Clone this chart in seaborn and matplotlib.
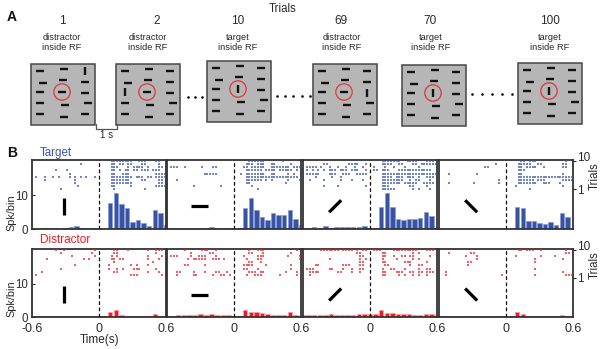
import numpy as np
import pandas as pd
import matplotlib
matplotlib.use("Agg")
import matplotlib.pyplot as plt
from matplotlib.patches import Rectangle, Circle
import seaborn as sns

# ---------------- data ----------------
# Panel A: trial sequence
trial_numbers = ["1", "2", "10", "69", "70", "100"]
trial_conditions = ["distractor", "distractor", "target", "distractor", "target", "target"]
rf_element_orientation = ["h", "h", "v", "h", "v", "v"]   # element inside the RF (red circle)
odd_vertical_element = [2, 6, -1, 8, -1, -1]               # vertical target elsewhere in array

# Panel B
stim_orientation_deg = [90, 0, 45, 135]
bin_centers = [-0.6, -0.55, -0.5, -0.45, -0.4, -0.35, -0.3, -0.25, -0.2, -0.15, -0.1, -0.05, 0.0,
               0.05, 0.1, 0.15, 0.2, 0.25, 0.3, 0.35, 0.4, 0.45, 0.5, 0.55, 0.6]

target_hist_vertical = [0, 0, 0.4, 0, 0.3, 0, 0.3, 0.5, 0.9, 0.3, 0, 0.4, 0,
                        0, 7.7, 10.8, 7.4, 6.2, 2.1, 2.8, 1.8, 1.0, 5.7, 4.7, 1.3]
target_hist_horizontal = [0, 0.4, 0, 0.4, 0, 0, 0.3, 0.3, 0.5, 0.3, 0, 0.3, 0,
                          0.3, 6.2, 9.2, 5.5, 3.6, 2.8, 4.8, 4.3, 4.3, 5.7, 3.0, 1.3]
target_hist_diag45 = [0.3, 0.3, 0.5, 0.4, 0.8, 0.4, 0.7, 0.7, 0.5, 0.7, 0.5, 0.8, 0.3,
                      0.4, 6.4, 10.8, 6.6, 3.1, 2.8, 3.1, 2.9, 3.2, 5.1, 3.8, 0.3]
target_hist_diag135 = [0.2, 0, 0, 0, 0, 0, 0, 0, 0.3, 0.3, 0.4, 0.4, 0,
                       0, 6.6, 6.1, 2.3, 2.5, 1.8, 1.5, 2.0, 1.2, 4.8, 3.5, 0]

distractor_hist_vertical = [0.3, 0.3, 0.3, 0.3, 0.3, 0.3, 0.3, 0.3, 0.3, 0.3, 0.3, 0.3, 0.2,
                            0.3, 1.4, 2.0, 0.7, 0.3, 0.3, 0.3, 0.3, 0.3, 1.0, 0.3, 0.3]
distractor_hist_horizontal = [0.3, 0.4, 0.6, 0.5, 0.6, 0.6, 0.9, 0.7, 0.8, 0.6, 0.6, 0.5, 0.4,
                              0.4, 2.0, 1.5, 1.5, 1.1, 0.8, 0.6, 0.6, 0.6, 1.5, 0.5, 0.3]
distractor_hist_diag45 = [0.6, 0.6, 0.6, 0.6, 0.6, 0.8, 0.6, 0.6, 0.6, 0.6, 0.9, 0.9, 0.9,
                          0.8, 2.0, 1.2, 1.2, 0.8, 0.8, 0.8, 0.6, 0.6, 0.9, 0.9, 0.5]
distractor_hist_diag135 = [0.2, 0.2, 0, 0.2, 0, 0.2, 0, 0.2, 0, 0.2, 0, 0.2, 0,
                           0.3, 1.6, 0.9, 0.4, 0.3, 0.3, 0.3, 0.2, 0.2, 0.7, 0.2, 0]

# Rasters: one string per trial (trial 10 first, trial 1 last), 25 ms per character,
# first 24 characters -0.6..0 s, last 24 characters 0..0.6 s; 'x' = spike
target_raster_vertical = [
    "........................ ....xxxxxxxx..xxx...xx..",
    ".................x...... ....xx.xx.xx...xx....x..",
    "........................ ....xxx...x.xxxx.x...xx.",
    "........x...x........... ....xx.x.xx.xx.xxx.xxx..",
    ".............x.......... ....xx..xxx.........xxxx",
    ".x..x..x.x...x.x.x.x..x. ....xxxxxxxx.xxx.xx.xxxx",
    "....x..........x........ ....xxxxxxx....xx....xx.",
    "...............x........ ....xxxxxxxx.........xx.",
    "................x....... ....xx.....x........xxxx",
    "..........x............. .....x..........x.......",
]
target_raster_horizontal = [
    "........................ .....xxxxxx......x......",
    "........................ ....xxx.xxx..xx.....x...",
    ".xxx..x.....x...xx...... ...xx.xxxxx..xxxxxxx.xxx",
    "........................ ....xxxxxx.xxxx.xxxxx.x.",
    ".............xxxxx...... ..x.xxxxxxx..xx....x.x..",
    "........................ ....xxxxxxxxxxxxxxxxxxx.",
    "...x.................... ....xxxxxx.x.x.....x...x",
    "........................ ....xx............x.....",
    ".........x.........x.... ......x.................",
    "........................ ........x...............",
]
target_raster_diag45 = [
    "........................ ....xxxxxxx..xxxx...xxx.",
    ".......xx.......xxxx..x. ....xxxx..xx...xx.xxxxxx",
    ".xxxx.x..x..x..x..x..x.. .x...x..x...x....x......",
    ".x.x.x.x.xxx.xxx.xxx..x. .xx.xxx...xxxxxxxxxxxx..",
    ".xxxxx...xxx..xxx..xxxx. ....xxxxxxxxxxxxxxxxxxxx",
    "....x.....x..x.......... ....xxxx.xxx.xxx.x..xxx.",
    "..x....x.....x...x...x.. ....xxxxxxxx..x.xx...x..",
    "........................ ....xxxxxxx.xxxxx..xxxx.",
    ".......x....x.........x. ....xxx.......xx....x...",
    "........................ ....xxxxx......x.x...x..",
]
target_raster_diag135 = [
    "........................ .....xx.xxx..........x..",
    "....................x... ....xxxxx..xx.......xx..",
    "................xx...... ....xx.xxxx..x......xx..",
    "........................ ....xxx.................",
    "...x.........x.......... ....xx..............x...",
    "........................ ....xxxxxxxxxxxxxxxxxxxx",
    ".....................x.. ....xxxxxx.xxx......xxxx",
    "...x........x........x.. ....xxxxxxx..xxx...x....",
    "........................ ...x................x...",
    "........................ ........x...............",
]
distractor_raster_vertical = [
    "........x..x..........x. .....xx...x......x..xxx.",
    "..........x..........x.. .....xx.............x...",
    "..............x.......x. ....x.x..........x....x.",
    ".....x............x.x... ....xx.xx........x...x..",
    "........................ .....x.............x....",
    "...............x........ ...x.......x.x...x......",
    "..........x............. ...x..x.x...xxx.....x...",
    "...x.................... .....xx..........x...x..",
    ".x...................... ...........xxx........x.",
    "........................ ........................",
]
distractor_raster_horizontal = [
    "......x.....xxx..x...... .....x..xxx...........x.",
    "........x......xx....... .....xx...x.........x...",
    ".xxx....x..xxx...x...... ...x....xxx........x...x",
    ".......x.xxxxx..xxx.x... ....x...xx.............x",
    "........................ .....xx..x..............",
    "......xx.....x.......... ...xxxx....x........x...",
    "........................ ...xx...x...........x...",
    "...xx....x...x...xx..x.. .....xxx.xx.......x...x.",
    "...x.....xx.....x..xx.x. ....x..xxx......x.....x.",
    "........................ ........................",
]
distractor_raster_diag45 = [
    "......xxxxxxx.xxxx.x.xx. .xxx....xxxxxxxxx...xxx.",
    "...................xx... ....xx.........x.x......",
    "....................xx.. ....xx..x..xx.xx.....x..",
    ".........x..........x.x. ....x....x.....x.x......",
    "....................xx.. ....xx......xxx.....x...",
    "....xx........xxx...xx.. .....xx.......x..xx.....",
    ".xxx.....xx...x..x..xx.. ....x..xx...x....x..xx..",
    "..xxxx......xx...x..x... ....xx...xxx..xx.xx.xxx.",
    "..x..................... ....xx....x.x..x.x..x...",
    "........................ ........................",
]
distractor_raster_diag135 = [
    "........................ ....xx.xxx..x........x..",
    "...x.......xx........... .....................xx.",
    ".........x...x.......... ...x........x....x......",
    ".............x.......... ..........x.........x...",
    "..........xx............ ..........x.............",
    "..........x............. ........................",
    "........................ ..........x.............",
    "..x..................... ....................x...",
    "..x...................x. ..........x..........xxx",
    "........................ ........................",
]

target_hists = [target_hist_vertical, target_hist_horizontal, target_hist_diag45, target_hist_diag135]
distractor_hists = [distractor_hist_vertical, distractor_hist_horizontal,
                    distractor_hist_diag45, distractor_hist_diag135]
target_rasters = [target_raster_vertical, target_raster_horizontal,
                  target_raster_diag45, target_raster_diag135]
distractor_rasters = [distractor_raster_vertical, distractor_raster_horizontal,
                      distractor_raster_diag45, distractor_raster_diag135]


def raster_frame(rows):
    times, trials = [], []
    for n, row in enumerate(rows):
        trial = len(rows) - n
        s = row.replace(" ", "")
        for i, ch in enumerate(s):
            if ch == "x":
                times.append(-0.6 + (i + 0.5) * 0.025)
                trials.append(trial)
    return pd.DataFrame({"time": times, "trial": trials})


# ---------------- style ----------------
sns.set_theme(style="white")
plt.rcParams["font.family"] = ["Liberation Sans", "DejaVu Sans"]
TXT = "#2a2a2a"
BLUE = "#3953a4"
RED = "#ec1c24"

W, H = 600, 349
fig = plt.figure(figsize=(W / 100, H / 100), dpi=100)

# ---------------- panel A (schematic) ----------------
axA = fig.add_axes([0, 0, 1, 1], zorder=-1)
axA.set_xlim(0, W)
axA.set_ylim(H, 0)
axA.axis("off")

box_left = [31, 116, 207, 313, 402, 518]
box_top = [64, 64, 61, 64, 65, 63]
box_w, box_h = 64, 61
num_x = [62, 157, 238, 341, 430, 550]
cap_x = [62, 148, 238, 342, 431, 550]
elem_rel = [(9, 7), (33, 5), (54, 7), (12, 19), (32, 16), (54, 18), (9, 28), (31, 28), (54, 29),
            (9, 39), (34, 41), (57, 39), (9, 50), (33, 53), (54, 50)]

fig.text(12 / W, 1 - 17 / H, "A", fontsize=10, fontweight="bold", color="#111", ha="center", va="center")
axA.text(283, 9, "Trials", fontsize=8.3, color=TXT, ha="center", va="center")

for i in range(6):
    axA.text(num_x[i], 21, trial_numbers[i], fontsize=8.5, color=TXT, ha="center", va="center")
    axA.text(cap_x[i], 37, trial_conditions[i], fontsize=6.7, color=TXT, ha="center", va="center")
    axA.text(cap_x[i], 48, "inside RF", fontsize=6.7, color=TXT, ha="center", va="center")
    L, T = box_left[i], box_top[i]
    axA.add_patch(Rectangle((L, T), box_w, box_h, facecolor="#b6b6b6", edgecolor="#474747", lw=1.1))
    for j, (dx, dy) in enumerate(elem_rel):
        x, y = L + dx, T + dy
        ori = "h"
        if j == 7:
            ori = rf_element_orientation[i]
        if j == odd_vertical_element[i]:
            ori = "v"
        if ori == "h":
            axA.plot([x - 3.6, x + 3.6], [y, y], color="#111", lw=1.7, solid_capstyle="butt")
        else:
            axA.plot([x, x], [y - 4.2, y + 4.2], color="#111", lw=1.7, solid_capstyle="butt")
    cx, cy = L + elem_rel[7][0], T + elem_rel[7][1]
    axA.add_patch(Circle((cx, cy), 8.2, fill=False, edgecolor="#e2353a", lw=0.9))

for xs, y in [([188, 195, 202], 97), ([277, 285, 293, 302, 310], 96), ([472, 482, 492, 502, 512], 94)]:
    axA.plot(xs, [y] * len(xs), "o", color="#111", ms=1.9, mew=0)

axA.plot([96, 96, 117, 117], [124, 128.5, 128.5, 124], color="#555", lw=0.9)
axA.text(107, 135.5, "1 s", fontsize=7, color=TXT, ha="center", va="center")

# ---------------- panel B ----------------
fig.text(12 / W, 1 - 153 / H, "B", fontsize=10, fontweight="bold", color="#111", ha="center", va="center")
fig.text(40 / W, 1 - 153 / H, "Target", fontsize=8.3, color=BLUE, ha="left", va="center")
fig.text(40 / W, 1 - 240 / H, "Distractor", fontsize=8.5, color=RED, ha="left", va="center")

col_left = [32, 167, 303, 439]
col_w = 134
row_top = [160, 249]
row_h = [69, 68]
YMAX = 20.5
TRIAL_LIM = (-11.65, 10.32)
edges = [b - 0.025 for b in bin_centers] + [bin_centers[-1] + 0.025]

hists = [target_hists, distractor_hists]
rasters = [target_rasters, distractor_rasters]
colors = [BLUE, RED]
edgecols = ["#8a9cd2", "#f7a0a0"]
spk_label_y = [0.235, 0.27]

for r in range(2):
    for c in range(4):
        ax = fig.add_axes([col_left[c] / W, (H - row_top[r] - row_h[r]) / H, col_w / W, row_h[r] / H])
        sns.histplot(x=bin_centers, weights=hists[r][c], bins=edges, shrink=0.8,
                     color=colors[r], edgecolor=edgecols[r], linewidth=0.5, alpha=1, ax=ax)
        ax.set_xlim(-0.6, 0.6)
        ax.set_ylim(0, YMAX)
        ax.set_xlabel("")
        ax.set_ylabel("")
        ax.axvline(0, color="#111", lw=0.9, ls=(0, (3, 2)), zorder=5)

        # stimulus orientation icon
        th = np.deg2rad(stim_orientation_deg[c])
        hl = 8.5
        dx = hl * np.cos(th) / col_w
        dy = hl * np.sin(th) / row_h[r]
        ax.plot([0.24 - dx, 0.24 + dx], [0.33 - dy, 0.33 + dy], transform=ax.transAxes,
                color="#000", lw=2.3, solid_capstyle="butt", zorder=6)

        for sp in ax.spines.values():
            sp.set_visible(True)
            sp.set_color("#333")
            sp.set_linewidth(1.3)

        ax.set_xticks([-0.6, 0, 0.6])
        if r == 1:
            ax.set_xticklabels(["-0.6", "0", "0.6"] if c == 0 else ["", "0", "0.6"])
        else:
            ax.set_xticklabels([])
        ax.tick_params(axis="x", direction="in", length=0, labelsize=9, colors=TXT, pad=4.5)
        if c == 0:
            ax.set_yticks([0, 10])
            ax.set_yticklabels(["0", "10"])
            ax.tick_params(axis="y", direction="in", length=2, width=0.8, labelsize=8.3,
                           colors=TXT, pad=3)
            ax.set_ylabel("Spk/bin", fontsize=7.8, color=TXT)
            ax.yaxis.set_label_coords(-0.118, spk_label_y[r])
        else:
            ax.set_yticks([])
        if r == 1 and c == 0:
            ax.set_xlabel("Time(s)", fontsize=8.5, color=TXT)
            ax.xaxis.set_label_coords(0.507, -0.25)

        tw = ax.twinx()
        df = raster_frame(rasters[r][c])
        sns.scatterplot(data=df, x="time", y="trial", ax=tw, color=colors[r], marker="s",
                        s=1.7, linewidth=0, alpha=0.7, legend=False)
        tw.set_ylim(*TRIAL_LIM)
        tw.set_xlim(-0.6, 0.6)
        tw.set_xlabel("")
        tw.set_ylabel("")
        for sp in tw.spines.values():
            sp.set_visible(False)
        if c == 3:
            tw.set_yticks([1, 10])
            tw.set_yticklabels(["1", "10"])
            tw.tick_params(axis="y", direction="out", length=2, width=0.8, labelsize=8.5,
                           colors=TXT, pad=1)
            tw.get_yticklabels()[1].set_va("baseline")
            tw.set_ylabel("Trials", fontsize=8.3, color=TXT, rotation=90)
            tw.yaxis.set_label_coords(1.12, 0.76)
        else:
            tw.set_yticks([])

fig.savefig("out.png", dpi=100)
